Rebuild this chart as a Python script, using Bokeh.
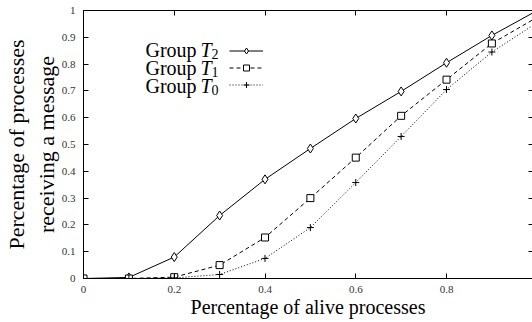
from bokeh.plotting import figure
from bokeh.models import Range1d, LinearAxis, FixedTicker, Label, Legend, LegendItem
from bokeh.core.properties import value
from bokeh.embed import file_html
from bokeh.resources import INLINE

# ---- data ----
alive = [0.0, 0.1, 0.2, 0.3, 0.4, 0.5, 0.6, 0.7, 0.8, 0.9, 1.0]
group_t2 = [0.0, 0.004, 0.08, 0.235, 0.37, 0.485, 0.597, 0.698, 0.805, 0.907, 1.0]
group_t1 = [0.0, 0.0, 0.005, 0.05, 0.153, 0.30, 0.451, 0.607, 0.742, 0.877, 0.975]
group_t0 = [0.0, 0.0, 0.002, 0.015, 0.075, 0.19, 0.358, 0.53, 0.705, 0.845, 0.955]

legend_word = "Group"
legend_var = "T"
legend_subs = ["2", "1", "0"]

x_ticks = [0.0, 0.2, 0.4, 0.6, 0.8]
x_tick_labels = ["0", "0.2", "0.4", "0.6", "0.8"]
y_ticks = [0.0, 0.1, 0.2, 0.3, 0.4, 0.5, 0.6, 0.7, 0.8, 0.9, 1.0]
y_tick_labels = ["0", "0.1", "0.2", "0.3", "0.4", "0.5", "0.6", "0.7", "0.8", "0.9", "1"]

x_label = "Percentage of alive processes"
y_label = "Percentage of processes\nreceiving a message"

FONT = "Liberation Serif"
X_END = 0.9895

p = figure(width=532, height=322, output_backend="svg", toolbar_location=None,
           x_range=Range1d(0, X_END), y_range=Range1d(0, 1),
           min_border_left=83, min_border_right=0, min_border_top=10, min_border_bottom=44)
p.outline_line_color = None
p.xgrid.visible = False
p.ygrid.visible = False
p.background_fill_color = "white"
p.border_fill_color = "white"

# main axes
for ax, ticks, labels in ((p.xaxis[0], x_ticks, x_tick_labels), (p.yaxis[0], y_ticks, y_tick_labels)):
    ax.ticker = FixedTicker(ticks=ticks)
    ax.major_label_overrides = {t: l for t, l in zip(ticks, labels)}
    ax.major_tick_in = 5
    ax.major_tick_out = 0
    ax.minor_tick_in = 0
    ax.minor_tick_out = 0
    ax.axis_line_color = "black"
    ax.major_tick_line_color = "black"
    ax.major_label_text_font = FONT
    ax.major_label_text_font_size = "11px"
    ax.major_label_text_color = "#333333"
    ax.axis_label_text_font = FONT
    ax.axis_label_text_font_style = "normal"
    ax.axis_label_text_color = "black"

p.xaxis[0].axis_label = x_label
p.xaxis[0].axis_label_text_font_size = "20px"
p.xaxis[0].major_label_standoff = 7
p.xaxis[0].axis_label_standoff = 0
p.yaxis[0].axis_label = y_label
p.yaxis[0].axis_label_text_font_size = "22px"
p.yaxis[0].major_label_standoff = 8
p.yaxis[0].axis_label_standoff = 0

# mirrored ticks on top and right (no labels)
top_axis = LinearAxis(ticker=FixedTicker(ticks=x_ticks), major_tick_in=5, major_tick_out=0,
                      minor_tick_in=0, minor_tick_out=0, major_label_text_font_size="1px",
                      major_label_overrides={t: "" for t in x_ticks},
                      major_label_standoff=0, axis_line_color="black")
p.add_layout(top_axis, "above")
right_axis = LinearAxis(ticker=FixedTicker(ticks=y_ticks), major_tick_in=4, major_tick_out=0,
                        minor_tick_in=0, minor_tick_out=0, major_label_text_font_size="1px",
                        major_label_overrides={t: "" for t in y_ticks},
                        major_label_standoff=0, axis_line_color=None)
p.add_layout(right_axis, "right")

# series
l2 = p.line(alive, group_t2, line_color="black", line_width=1)
m2 = p.scatter(alive, group_t2, marker="diamond", size=9,
               fill_color="white", line_color="black", line_width=1)
l1 = p.line(alive, group_t1, line_color="black", line_width=1, line_dash="4 3")
m1 = p.scatter(alive, group_t1, marker="square", size=7, fill_color="white", line_color="black", line_width=1)
l0 = p.line(alive, group_t0, line_color="black", line_width=1, line_dash="1 2")
m0 = p.scatter(alive, group_t0, marker="cross", size=7, line_color="black", line_width=1)

legend = Legend(items=[LegendItem(label=value(" "), renderers=[l2, m2]),
                       LegendItem(label=value(" "), renderers=[l1, m1]),
                       LegendItem(label=value(" "), renderers=[l0, m0])],
                location=(146, 186), glyph_width=34, glyph_height=15, label_width=0,
                label_height=15, label_standoff=0, label_text_font_size="1px",
                spacing=2, padding=0, margin=0, border_line_color=None,
                background_fill_alpha=0)
p.add_layout(legend, "center")

# legend texts (Group T_n) to the left of the samples
row_y = [0.851, 0.784, 0.720]
for yy, sub in zip(row_y, legend_subs):
    p.add_layout(Label(x=0.1366, y=yy, text=legend_word, text_font=FONT,
                       text_font_size="20px", text_baseline="alphabetic", text_color="black"))
    p.add_layout(Label(x=0.2579, y=yy, text=legend_var, text_font=FONT,
                       text_font_size="20px", text_font_style="italic",
                       text_baseline="alphabetic", text_color="black"))
    p.add_layout(Label(x=0.2821, y=yy, y_offset=-4, text=sub, text_font=FONT,
                       text_font_size="14px", text_baseline="alphabetic", text_color="black"))

open("out.html", "w").write(file_html(p, INLINE))
